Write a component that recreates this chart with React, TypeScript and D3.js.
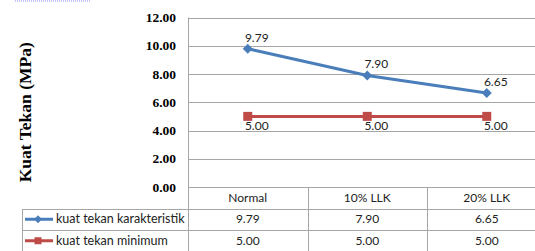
import React, { useRef, useEffect } from 'react';
import * as d3 from 'd3';

const categories = ['Normal', '10% LLK', '20% LLK'];
const karakteristik = [9.79, 7.9, 6.65];
const minimum = [5.0, 5.0, 5.0];
const yTicks = [0, 2, 4, 6, 8, 10, 12];

const series = [
  { name: 'kuat tekan karakteristik', values: karakteristik, color: '#4a7ebb', marker: 'diamond', labelPos: 'above' },
  { name: 'kuat tekan minimum', values: minimum, color: '#be4b48', marker: 'square', labelPos: 'below' },
];

const App: React.FC = () => {
  const chartRef = useRef<SVGSVGElement>(null);

  useEffect(() => {
    if (!chartRef.current) return;
    const svg = d3.select(chartRef.current);
    svg.selectAll('*').remove();

    const W = 535, H = 251;
    const plot = { left: 188, right: 546.5, top: 17.5, bottom: 187 };
    const rowH = 21.5;
    const legendLeft = 22;
    const grid = '#a6a6a6';
    const tableFont = 'Lato, "Open Sans", sans-serif';

    const x = d3.scaleBand().domain(categories).range([plot.left, plot.right]);
    const y = d3.scaleLinear().domain([0, 12]).range([plot.bottom, plot.top]);
    const cx = (c: string) => (x(c) || 0) + x.bandwidth() / 2;

    svg.append('rect').attr('width', W).attr('height', H).attr('fill', '#fff');

    // cut-off remains of the page above
    svg.append('line')
      .attr('x1', 15).attr('x2', 90).attr('y1', 1).attr('y2', 1)
      .attr('stroke', '#8a8aff').attr('stroke-width', 1).attr('stroke-dasharray', '1,1');

    // gridlines
    svg.append('g').selectAll('line').data(yTicks).enter().append('line')
      .attr('x1', plot.left).attr('x2', plot.right)
      .attr('y1', d => Math.round(y(d)) + 0.5).attr('y2', d => Math.round(y(d)) + 0.5)
      .attr('stroke', grid).attr('stroke-width', 1);

    // y tick labels
    svg.append('g').selectAll('text').data(yTicks).enter().append('text')
      .attr('x', 176).attr('y', d => y(d) + 4.5)
      .attr('text-anchor', 'end')
      .style('font-family', '"Liberation Serif", serif')
      .style('font-weight', 'bold').style('font-size', '13.5px')
      .text(d => d.toFixed(2));

    // y title
    svg.append('text')
      .attr('transform', `translate(31,${(plot.top + plot.bottom) / 2 + 10}) rotate(-90)`)
      .attr('text-anchor', 'middle')
      .style('font-family', '"Liberation Serif", serif')
      .style('font-weight', 'bold').style('font-size', '17.5px')
      .text('Kuat Tekan (MPa)');

    // table lines
    const tTop = plot.bottom;
    const tBottom = plot.bottom + rowH * 3;
    const table = svg.append('g').attr('stroke', grid).attr('stroke-width', 1);
    table.append('line').attr('x1', plot.left + 0.5).attr('x2', plot.left + 0.5)
      .attr('y1', plot.top).attr('y2', tBottom);
    categories.slice(1).forEach(c => {
      const xx = Math.round(x(c) || 0) + 0.5;
      table.append('line').attr('x1', xx).attr('x2', xx).attr('y1', tTop).attr('y2', tBottom);
    });
    [1, 2].forEach(i => {
      const yy = Math.round(tTop + rowH * i) + 0.5;
      table.append('line').attr('x1', legendLeft).attr('x2', plot.right).attr('y1', yy).attr('y2', yy);
    });
    table.append('line').attr('x1', legendLeft + 0.5).attr('x2', legendLeft + 0.5)
      .attr('y1', Math.round(tTop + rowH) + 0.5).attr('y2', tBottom);

    // header row
    svg.append('g').selectAll('text').data(categories).enter().append('text')
      .attr('x', d => cx(d)).attr('y', tTop + rowH / 2 + 4)
      .attr('text-anchor', 'middle')
      .style('font-family', tableFont).style('font-size', '12px').style('fill', '#222')
      .text(d => d);

    const marker = (g: d3.Selection<SVGGElement, unknown, null, undefined>, kind: string, color: string, px: number, py: number, s: number) => {
      if (kind === 'diamond') {
        g.append('path')
          .attr('d', `M${px},${py - s}L${px + s},${py}L${px},${py + s}L${px - s},${py}Z`)
          .attr('fill', color);
      } else {
        g.append('rect')
          .attr('x', px - s).attr('y', py - s).attr('width', s * 2).attr('height', s * 2)
          .attr('fill', color);
      }
    };

    series.forEach((s, si) => {
      const pts = categories.map((c, i) => [cx(c), y(s.values[i])] as [number, number]);
      const g = svg.append('g');
      g.append('path')
        .attr('d', d3.line()(pts))
        .attr('fill', 'none').attr('stroke', s.color).attr('stroke-width', 3);
      pts.forEach(p => marker(g, s.marker, s.color, p[0], p[1], s.marker === 'diamond' ? 5 : 4.5));

      // data labels
      g.selectAll('text').data(s.values).enter().append('text')
        .attr('x', (d, i) => pts[i][0] + 9)
        .attr('y', (d, i) => s.labelPos === 'above' ? pts[i][1] - 7 : pts[i][1] + 14)
        .attr('text-anchor', 'middle')
        .style('font-family', tableFont).style('font-size', '12px').style('fill', '#222')
        .text(d => d.toFixed(2));

      // table row
      const rowMid = tTop + rowH * (si + 1) + rowH / 2;
      g.append('line').attr('x1', 25).attr('x2', 53).attr('y1', rowMid).attr('y2', rowMid)
        .attr('stroke', s.color).attr('stroke-width', 3);
      marker(g, s.marker, s.color, 38, rowMid, s.marker === 'diamond' ? 4 : 3.5);
      g.append('text')
        .attr('x', 56).attr('y', rowMid + 4)
        .style('font-family', tableFont).style('font-size', '12.5px').style('fill', '#222')
        .text(s.name);
      g.append('g').selectAll('text').data(s.values).enter().append('text')
        .attr('x', (d, i) => cx(categories[i])).attr('y', rowMid + 4)
        .attr('text-anchor', 'middle')
        .style('font-family', tableFont).style('font-size', '12px').style('fill', '#222')
        .text(d => d.toFixed(2));
    });
  }, []);

  return (
    <svg ref={chartRef} width={535} height={251}
      style={{ position: 'absolute', left: 0, top: 0, overflow: 'hidden' }} />
  );
};

export default App;
